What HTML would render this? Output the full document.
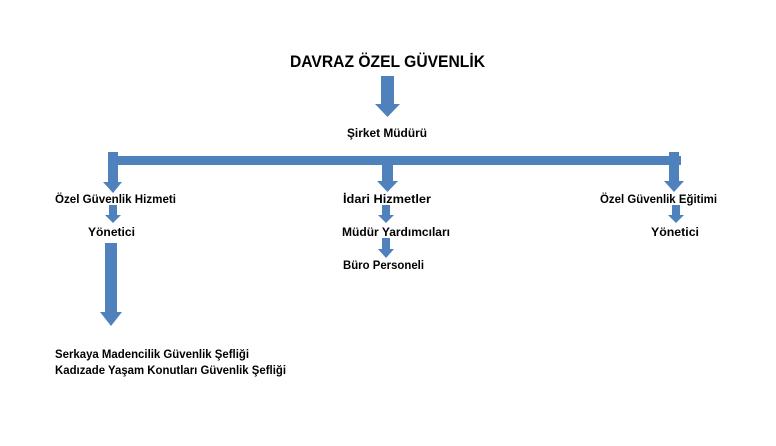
<!DOCTYPE html>
<html><head><meta charset="utf-8"><style>
html,body{margin:0;padding:0;background:#fff;width:776px;height:446px;overflow:hidden}
svg{display:block}
text{font-family:"Liberation Sans",sans-serif;font-weight:bold;fill:#000}
</style></head><body>
<svg width="776" height="446" viewBox="0 0 776 446" xmlns="http://www.w3.org/2000/svg">
<g fill="#4F81BD">
<!-- main arrow -->
<polygon points="381,76 394,76 394,104 400,104 387.5,117 375,104 381,104"/>
<!-- horizontal bar -->
<rect x="108" y="156" width="573" height="9"/>
<!-- left down -->
<polygon points="108,152 118,152 118,182 122,182 113,193 103,182 108,182"/>
<!-- center down -->
<polygon points="382,163 393,163 393,181 398,181 387.5,192 377,181 382,181"/>
<!-- right down -->
<polygon points="669,152 679,152 679,181 684,181 674,192 664,181 669,181"/>
<!-- small arrows level 2 -->
<polygon points="109,205 117,205 117,215 121,215 113,223 105,215 109,215"/>
<polygon points="382,205 390,205 390,215 394,215 386,223 378,215 382,215"/>
<polygon points="672,205 680,205 680,215 684,215 676,223 668,215 672,215"/>
<!-- small arrow level 3 -->
<polygon points="382,238 390,238 390,249 394,249 386,258 378,249 382,249"/>
<!-- long left arrow -->
<polygon points="105,243 117,243 117,312 122,312 111,326 100,312 105,312"/>
</g>
<text x="387.5" y="67" font-size="17" text-anchor="middle" textLength="195" lengthAdjust="spacingAndGlyphs">DAVRAZ ÖZEL GÜVENLİK</text>
<g font-size="12">
<text x="387" y="137" text-anchor="middle" textLength="80" lengthAdjust="spacingAndGlyphs">Şirket Müdürü</text>
<text x="55" y="203" textLength="121" lengthAdjust="spacingAndGlyphs">Özel Güvenlik Hizmeti</text>
<text x="343" y="203" textLength="88" lengthAdjust="spacingAndGlyphs">İdari Hizmetler</text>
<text x="600" y="203" textLength="117" lengthAdjust="spacingAndGlyphs">Özel Güvenlik Eğitimi</text>
<text x="88" y="236" textLength="47" lengthAdjust="spacingAndGlyphs">Yönetici</text>
<text x="342" y="236" textLength="108" lengthAdjust="spacingAndGlyphs">Müdür Yardımcıları</text>
<text x="651" y="236" textLength="48" lengthAdjust="spacingAndGlyphs">Yönetici</text>
<text x="343" y="269" textLength="81" lengthAdjust="spacingAndGlyphs">Büro Personeli</text>
<text x="55" y="358" textLength="194" lengthAdjust="spacingAndGlyphs">Serkaya Madencilik Güvenlik Şefliği</text>
<text x="55" y="374" textLength="231" lengthAdjust="spacingAndGlyphs">Kadızade Yaşam Konutları Güvenlik Şefliği</text>
</g>
</svg>
</body></html>
